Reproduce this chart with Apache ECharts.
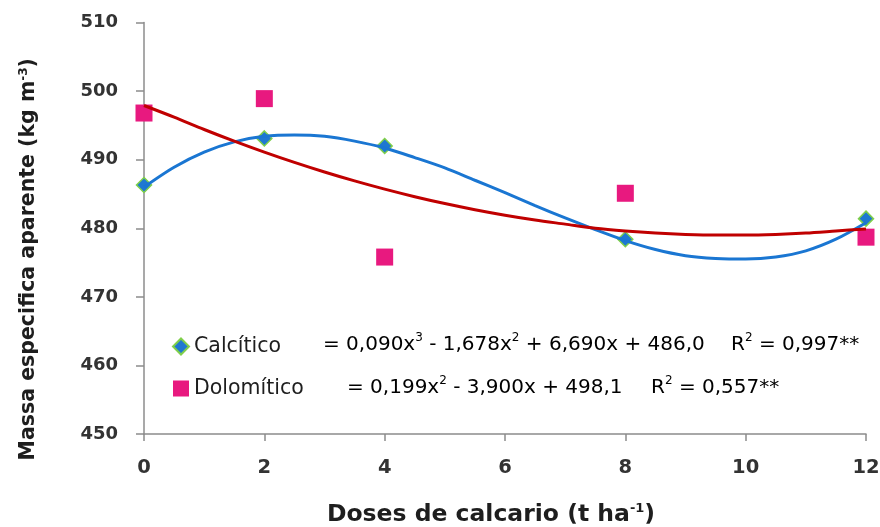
<!DOCTYPE html>
<html>
<head>
<meta charset="utf-8">
<script src="https://cdn.jsdelivr.net/npm/echarts@6/dist/echarts.min.js"></script>
<style>
  html, body { margin: 0; padding: 0; background: #fff; }
  #chart { width: 880px; height: 527px; }
</style>
</head>
<body>
<div id="chart"></div>
<script>
  // observed points
  const doses = [0, 2, 4, 8, 12];
  const calcitico = [486.3, 493.1, 492.0, 478.4, 481.4];
  const dolomitico = [496.8, 498.9, 475.8, 485.1, 478.7];

  // trend lines, every half dose unit
  const trendX = [0, 0.5, 1, 1.5, 2, 2.5, 3, 3.5, 4, 4.5, 5, 5.5, 6, 6.5, 7, 7.5, 8, 8.5, 9, 9.5, 10, 10.5, 11, 11.5, 12];
  const calcTrend = [486.0, 488.9, 491.1, 492.6, 493.4, 493.6, 493.4, 492.7, 491.7, 490.3, 488.8, 487.0, 485.2, 483.3, 481.5,
    479.8, 478.2, 476.9, 476.0, 475.6, 475.5, 475.8, 476.7, 478.4, 480.8];
  const doloTrend = [497.9, 496.2, 494.4, 492.7, 491.1, 489.6, 488.2, 486.9, 485.7, 484.6, 483.6, 482.7, 481.9, 481.2, 480.6,
    480.0, 479.6, 479.3, 479.1, 479.0, 479.0, 479.1, 479.3, 479.6, 479.9];

  const font = "DejaVu Sans";
  const ink = "#1e1e1e";
  const axisGrey = "#8c8c8c";

  const pairs = (xs, ys) => xs.map((x, i) => [x, ys[i]]);

  const eqRich = {
    n: { fontFamily: font, fontSize: 20, color: ink, lineHeight: 26 },
    s: { fontFamily: font, fontSize: 12, color: ink, lineHeight: 26, verticalAlign: "top", padding: [0, 0, 11, 0] }
  };

  const chart = echarts.init(document.getElementById("chart"), null, { renderer: "canvas" });

  chart.setOption({
    animation: false,
    textStyle: { fontFamily: font },
    grid: { left: 144, right: 14, top: 22.5, bottom: 93, outerBoundsMode: "none", containLabel: false },
    xAxis: {
      type: "value",
      min: 0,
      max: 12,
      interval: 2,
      name: "Doses de calcario (t ha{s|-1})",
      nameLocation: "middle",
      nameGap: 68,
      nameTextStyle: {
        fontFamily: font, fontSize: 23.5, fontWeight: "bold", color: ink,
        padding: [0, 28, 0, 0],
        rich: { s: { fontFamily: font, fontSize: 13, fontWeight: "bold", color: ink, verticalAlign: "top", padding: [0, 0, 12, 0] } }
      },
      axisLine: { lineStyle: { color: axisGrey, width: 1.5 } },
      axisTick: { length: 7, lineStyle: { color: axisGrey, width: 1.5 } },
      axisLabel: { margin: 24, fontSize: 19.5, fontWeight: "bold", color: "#333" },
      splitLine: { show: false }
    },
    yAxis: {
      type: "value",
      min: 450,
      max: 510,
      interval: 10,
      name: "Massa especifica aparente (kg m{s|-3})",
      nameLocation: "middle",
      nameGap: 104,
      nameRotate: 90,
      nameTextStyle: {
        fontFamily: font, fontSize: 20.5, fontWeight: "bold", color: ink,
        padding: [0, 62, 0, 0],
        rich: { s: { fontFamily: font, fontSize: 12, fontWeight: "bold", color: ink, verticalAlign: "top", padding: [0, 0, 10, 0] } }
      },
      axisLine: { show: true, lineStyle: { color: axisGrey, width: 1.5 } },
      axisTick: { show: true, length: 8, lineStyle: { color: axisGrey, width: 1.5 } },
      axisLabel: { margin: 26, fontSize: 18, fontWeight: "bold", color: "#333" },
      splitLine: { show: false }
    },
    legend: {
      data: ["Calcítico", "Dolomítico"],
      orient: "vertical",
      left: 167,
      top: 331,
      itemGap: 21,
      itemWidth: 16,
      itemHeight: 16,
      textStyle: { fontFamily: font, fontSize: 20.5, color: ink, padding: [0, 0, 0, 0] }
    },
    series: [
      {
        name: "Calcítico",
        type: "scatter",
        symbol: "diamond",
        symbolSize: 15,
        itemStyle: { color: "#1f78d1", borderColor: "#7fcf4a", borderWidth: 1.5, opacity: 1 },
        data: pairs(doses, calcitico),
        z: 3
      },
      {
        name: "Dolomítico",
        type: "scatter",
        symbol: "rect",
        symbolSize: 17,
        itemStyle: { color: "#e8197f", opacity: 1 },
        data: pairs(doses, dolomitico),
        z: 2
      },
      {
        name: "Calcítico trend",
        type: "line",
        smooth: 0.3,
        showSymbol: false,
        lineStyle: { color: "#1a76d2", width: 3 },
        data: pairs(trendX, calcTrend),
        z: 4
      },
      {
        name: "Dolomítico trend",
        type: "line",
        smooth: 0.3,
        showSymbol: false,
        lineStyle: { color: "#c00000", width: 3 },
        data: pairs(trendX, doloTrend),
        z: 4
      }
    ],
    graphic: [
      {
        type: "text",
        left: 323,
        top: 332,
        style: { text: "{n|= 0,090x}{s|3}{n| - 1,678x}{s|2}{n| + 6,690x + 486,0}", rich: eqRich }
      },
      {
        type: "text",
        left: 731,
        top: 332,
        style: { text: "{n|R}{s|2}{n| = 0,997**}", rich: eqRich }
      },
      {
        type: "text",
        left: 347,
        top: 375,
        style: { text: "{n|= 0,199x}{s|2}{n| - 3,900x + 498,1}", rich: eqRich }
      },
      {
        type: "text",
        left: 651,
        top: 375,
        style: { text: "{n|R}{s|2}{n| = 0,557**}", rich: eqRich }
      }
    ]
  });

  window.addEventListener("resize", () => chart.resize());
</script>
</body>
</html>
